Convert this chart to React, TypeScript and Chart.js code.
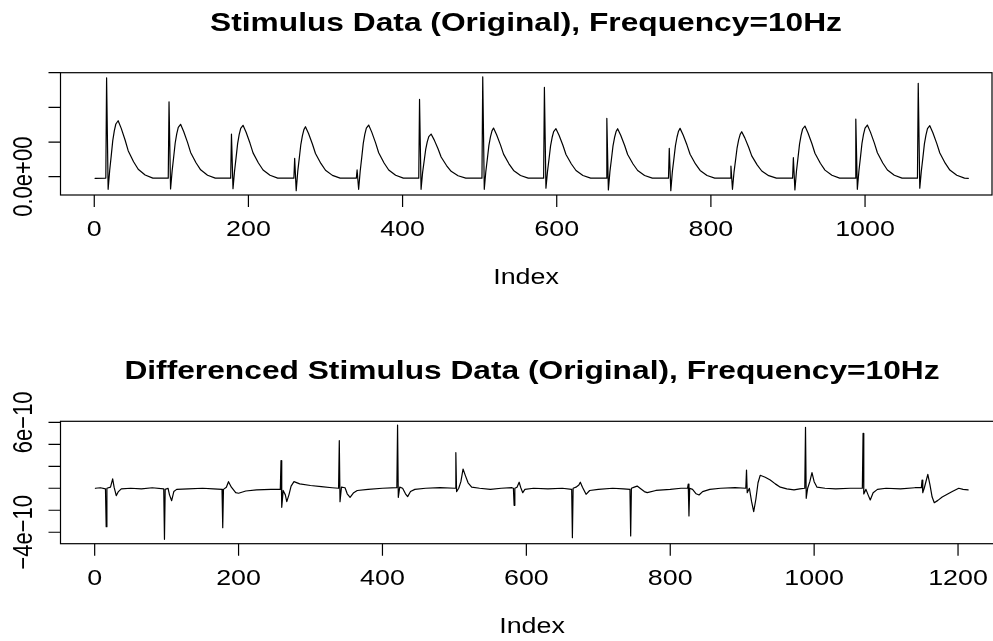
import React, { useEffect, useRef } from "react";
import { Chart, registerables } from "chart.js";

Chart.register(...registerables);

// ---------- Top panel: stimulus (values in units of 1e-8) ----------
const topIndex = [
  1, 15, 16, 18, 20, 22, 24, 26, 28, 31, 35, 40, 44, 51, 57, 66, 76,
  96, 97, 99, 101, 103, 105, 107, 109, 112, 116, 121, 125, 132, 138, 147, 157,
  177, 178, 180, 182, 184, 186, 188, 190, 193, 197, 202, 206, 213, 219, 228, 238,
  259, 260, 262, 264, 266, 268, 270, 272, 274, 278, 283, 287, 294, 300, 309, 319,
  340, 341, 343, 345, 347, 349, 351, 353, 356, 360, 365, 369, 376, 382, 391, 401,
  421, 422, 424, 426, 428, 430, 432, 434, 437, 441, 446, 450, 457, 463, 472, 482,
  503, 504, 506, 508, 510, 512, 514, 516, 518, 522, 527, 531, 538, 544, 553, 563,
  583, 584, 586, 588, 590, 592, 594, 596, 599, 603, 608, 612, 619, 625, 634, 644,
  664, 665, 667, 669, 671, 673, 675, 677, 679, 683, 688, 692, 699, 705, 714, 724,
  745, 746, 748, 750, 752, 754, 756, 758, 760, 764, 769, 773, 780, 786, 795, 805,
  825, 826, 828, 830, 832, 834, 836, 838, 840, 844, 849, 853, 860, 866, 875, 885,
  906, 907, 909, 911, 913, 915, 917, 919, 922, 926, 931, 935, 942, 948, 957, 967,
  987, 988, 990, 992, 994, 996, 998, 1000, 1003, 1007, 1012, 1016, 1023, 1029, 1038, 1048,
  1068, 1069, 1071, 1073, 1075, 1077, 1079, 1081, 1084, 1088, 1093, 1097, 1104, 1110, 1119, 1129, 1134,
];
const topValue = [
  -0.23, -0.2, 14.27, -1.82, 0.9, 3.0, 5.2, 6.6, 7.6, 8.07, 6.97, 5.29, 3.75, 2.16, 1.07, 0.24, -0.2,
  -0.22, 10.8, -1.77, 0.81, 2.8, 4.86, 6.17, 7.11, 7.55, 6.52, 4.95, 3.5, 2.01, 0.99, 0.21, -0.2,
  -0.22, 6.15, -1.73, 0.79, 2.75, 4.77, 6.06, 6.98, 7.41, 6.4, 4.85, 3.44, 1.97, 0.96, 0.2, -0.2,
  -0.22, 2.65, -2.02, 0.76, 2.67, 4.64, 5.89, 6.79, 7.21, 6.22, 4.72, 3.34, 1.91, 0.93, 0.19, -0.2,
  -0.22, 0.97, -1.82, 0.79, 2.76, 4.8, 6.09, 7.01, 7.45, 6.43, 4.88, 3.46, 1.98, 0.97, 0.21, -0.2,
  -0.22, 11.15, -1.82, 0.63, 2.26, 3.95, 5.02, 5.79, 6.15, 5.31, 4.02, 2.84, 1.61, 0.77, 0.14, -0.2,
  -0.22, 14.4, -1.82, 0.74, 2.59, 4.51, 5.73, 6.61, 7.02, 6.06, 4.59, 3.25, 1.86, 0.9, 0.18, -0.2,
  -0.22, 12.88, -1.67, 0.73, 2.56, 4.45, 5.65, 6.51, 6.92, 5.97, 4.53, 3.2, 1.83, 0.89, 0.18, -0.2,
  -0.22, 8.41, -1.92, 0.73, 2.56, 4.45, 5.65, 6.51, 6.92, 5.97, 4.53, 3.2, 1.83, 0.89, 0.18, -0.2,
  -0.22, 4.09, -2.02, 0.73, 2.57, 4.48, 5.69, 6.56, 6.97, 6.02, 4.56, 3.23, 1.84, 0.9, 0.18, -0.2,
  -0.22, 1.54, -1.82, 0.67, 2.39, 4.17, 5.3, 6.11, 6.49, 5.6, 4.24, 3.0, 1.71, 0.82, 0.15, -0.2,
  -0.22, 2.74, -1.92, 0.78, 2.71, 4.7, 5.97, 6.88, 7.31, 6.31, 4.79, 3.39, 1.94, 0.95, 0.2, -0.2,
  -0.22, 8.31, -1.82, 0.79, 2.76, 4.8, 6.09, 7.01, 7.45, 6.43, 4.88, 3.46, 1.98, 0.97, 0.21, -0.2,
  -0.22, 13.46, -1.67, 0.78, 2.72, 4.73, 6.01, 6.92, 7.35, 6.35, 4.81, 3.41, 1.95, 0.96, 0.2, -0.2, -0.23,
];
const topXTicks = [0, 200, 400, 600, 800, 1000];
const topYTicks = [0, 5, 10, 15];
const topYTickLabels = ["0.0e+00", "", "", ""];

// ---------- Bottom panel: differenced stimulus (values in units of 1e-10) ----------
const diffIndex = [
  1, 8, 15,
  16, 17, 22, 25, 27, 30, 33, 37, 50, 65, 80, 96,
  97, 98, 102, 104, 107, 110, 114, 130, 150, 165, 177,
  178, 179, 183, 186, 190, 196, 200, 210, 225, 245, 258,
  259, 260, 262, 265, 267, 270, 273, 277, 285, 300, 315, 330, 339,
  340, 341, 343, 348, 351, 355, 360, 365, 380, 400, 420,
  421, 422, 424, 428, 432, 435, 439, 445, 460, 480, 501,
  502, 503, 506, 509, 512, 515, 519, 524, 535, 550, 565, 580, 582,
  583, 584, 587, 590, 592, 595, 598, 610, 630, 650, 663,
  664, 665, 669, 673, 675, 678, 683, 688, 700, 720, 735, 744,
  745, 746, 750, 754, 758, 764, 768, 780, 800, 815, 824,
  825, 826, 827, 831, 836, 840, 845, 855, 870, 890, 905,
  906, 907, 910, 913, 916, 919, 922, 925, 932, 939, 946, 953, 962, 972, 980, 987,
  988, 989, 991, 994, 997, 1000, 1004, 1015, 1030, 1050, 1067,
  1068, 1069, 1072, 1075, 1078, 1082, 1088, 1100, 1120, 1140, 1149,
  1150, 1151, 1153, 1155, 1158, 1161, 1164, 1167, 1172, 1178, 1185, 1192, 1201, 1207, 1214,
];
const diffValue = [
  0, 0.05, -0.05,
  -3.49, 0.0, 0.1, 0.85, 0.1, -0.67, -0.3, -0.05, 0.0, -0.05, 0.05, -0.05,
  -4.64, -0.1, 0.0, -0.6, -1.13, -0.3, -0.1, -0.05, 0.0, -0.05, -0.1,
  -3.58, -0.1, 0.1, 0.6, 0.1, -0.4, -0.45, -0.25, -0.15, -0.1, -0.1,
  2.51, -1.73, -0.2, -0.6, -1.22, -0.6, 0.2, 0.6, 0.4, 0.25, 0.15, 0.05, 0.0,
  4.33, -1.22, 0.1, 0.05, -0.5, -0.82, -0.4, -0.2, -0.1, 0.0, 0.05,
  5.75, -0.82, 0.1, 0.0, -0.5, -0.76, -0.3, -0.1, 0.0, 0.05, 0.0,
  3.24, -0.3, 0.0, 0.6, 1.75, 1.2, 0.5, 0.1, 0.0, -0.1, 0.0, 0.05, 0.0,
  -1.55, 0.0, 0.1, 0.55, 0.1, -0.4, -0.1, 0.0, -0.05, 0.0, -0.1,
  -4.49, 0.0, 0.1, 0.3, 0.55, 0.1, -0.55, -0.2, -0.1, 0.0, -0.05, -0.1,
  -4.34, 0.0, 0.1, 0.2, 0.0, -0.3, -0.4, -0.2, -0.1, 0.0, 0.0,
  0.39, -2.52, 0.0, -0.1, -0.5, -0.61, -0.3, -0.1, 0.0, 0.05, 0.0,
  1.66, -0.4, 0.0, -1.2, -2.12, -1.0, 0.5, 1.18, 1.0, 0.75, 0.4, 0.1, -0.05, -0.15, -0.05, 0.0,
  5.55, -0.91, 0.0, 0.6, 1.42, 0.6, 0.1, 0.0, -0.05, 0.0, 0.0,
  4.99, -0.52, -0.1, -0.6, -1.06, -0.4, -0.1, 0.0, -0.05, 0.05, 0.05,
  0.75, -0.4, 0.0, 0.5, 1.27, 0.3, -0.8, -1.31, -1.1, -0.8, -0.55, -0.3, 0.0, -0.1, -0.15,
];
const diffXTicks = [0, 200, 400, 600, 800, 1000, 1200];
const diffYTicks = [-4, -2, 0, 2, 4, 6];
const diffYTickLabels = ["\u22124e\u221210", "", "", "", "", "6e\u221210"];

const FONT = '"Liberation Sans", Arial, Helvetica, sans-serif';
const STRETCH = 1.22;
const TICK_LEN = 12;
const LINE_W = 1.2;

type Spec = {
  top: number;
  width: number;
  height: number;
  pad: { left: number; top: number; right: number; bottom: number };
  xMin: number;
  xMax: number;
  yMin: number;
  yMax: number;
  xs: number[];
  ys: number[];
  xTicks: number[];
  yTicks: number[];
  yTickLabels: string[];
  title: string;
  titleX: number;
  titleBaseline: number;
  tickBaseline: number;
  xLabelX: number;
  xLabelBaseline: number;
  yLabelBaselineX: number;
};

function stretchedText(ctx: CanvasRenderingContext2D, text: string, x: number, y: number) {
  ctx.save();
  ctx.translate(x, y);
  ctx.scale(STRETCH, 1);
  ctx.fillText(text, 0, 0);
  ctx.restore();
}

function rotatedText(ctx: CanvasRenderingContext2D, text: string, x: number, y: number) {
  ctx.save();
  ctx.translate(x, y);
  ctx.scale(STRETCH, 1);
  ctx.rotate(-Math.PI / 2);
  ctx.fillText(text, 0, 0);
  ctx.restore();
}

function makeAxesPlugin(spec: Spec) {
  return {
    id: "rStyleAxes",
    afterDraw(chart: any) {
      const ctx: CanvasRenderingContext2D = chart.ctx;
      const a = chart.chartArea;
      const xs = chart.scales.x;
      const ys = chart.scales.y;
      ctx.save();
      ctx.strokeStyle = "#000";
      ctx.lineWidth = LINE_W;
      ctx.strokeRect(a.left, a.top, a.right - a.left, a.bottom - a.top);
      ctx.beginPath();
      for (const t of spec.xTicks) {
        const px = xs.getPixelForValue(t);
        ctx.moveTo(px, a.bottom);
        ctx.lineTo(px, a.bottom + TICK_LEN);
      }
      for (const t of spec.yTicks) {
        const py = ys.getPixelForValue(t);
        ctx.moveTo(a.left, py);
        ctx.lineTo(a.left - TICK_LEN, py);
      }
      ctx.stroke();

      ctx.fillStyle = "#000";
      ctx.textAlign = "center";
      ctx.textBaseline = "alphabetic";
      ctx.font = `22px ${FONT}`;
      for (const t of spec.xTicks) {
        stretchedText(ctx, String(t), xs.getPixelForValue(t), spec.tickBaseline);
      }
      spec.yTicks.forEach((t, i) => {
        const label = spec.yTickLabels[i];
        if (label) rotatedText(ctx, label, spec.yLabelBaselineX, ys.getPixelForValue(t));
      });
      stretchedText(ctx, "Index", spec.xLabelX, spec.xLabelBaseline);

      ctx.font = `bold 26px ${FONT}`;
      stretchedText(ctx, spec.title, spec.titleX, spec.titleBaseline);
      ctx.restore();
    },
  };
}

function Panel({ spec }: { spec: Spec }) {
  const ref = useRef<HTMLCanvasElement | null>(null);
  useEffect(() => {
    if (!ref.current) return;
    const chart = new Chart(ref.current, {
      type: "line",
      data: {
        datasets: [
          {
            data: spec.xs.map((x, i) => ({ x, y: spec.ys[i] })),
            borderColor: "#000",
            borderWidth: LINE_W,
            pointRadius: 0,
            tension: 0,
            fill: false,
            borderJoinStyle: "round",
            borderCapStyle: "round",
          },
        ],
      },
      options: {
        responsive: false,
        animation: false,
        devicePixelRatio: 1,
        events: [],
        layout: { padding: spec.pad },
        scales: {
          x: { type: "linear", min: spec.xMin, max: spec.xMax, display: false },
          y: { type: "linear", min: spec.yMin, max: spec.yMax, display: false },
        },
        plugins: {
          legend: { display: false },
          tooltip: { enabled: false },
          title: { display: false },
        },
      },
      plugins: [makeAxesPlugin(spec)],
    } as any);
    return () => chart.destroy();
  }, [spec]);
  return (
    <canvas
      ref={ref}
      width={spec.width}
      height={spec.height}
      style={{
        position: "absolute",
        left: 0,
        top: spec.top,
        width: spec.width,
        height: spec.height,
        display: "block",
      }}
    />
  );
}

const W = 1010;

const topSpec: Spec = {
  top: 0,
  width: W,
  height: 320,
  pad: { left: 60.5, top: 72.7, right: W - 992, bottom: 320 - 195 },
  xMin: -43.8,
  xMax: 1164.7,
  yMin: -2.64,
  yMax: 15.0,
  xs: topIndex,
  ys: topValue,
  xTicks: topXTicks,
  yTicks: topYTicks,
  yTickLabels: topYTickLabels,
  title: "Stimulus Data (Original), Frequency=10Hz",
  titleX: 526,
  titleBaseline: 31,
  tickBaseline: 236,
  xLabelX: 526,
  xLabelBaseline: 284,
  yLabelBaselineX: 31.5,
};

const bottomSpec: Spec = {
  top: 320,
  width: W,
  height: 321,
  pad: { left: 60.5, top: 101.3, right: W - 1003, bottom: 321 - 223.7 },
  xMin: -47.5,
  xMax: 1262.5,
  yMin: -5.04,
  yMax: 6.09,
  xs: diffIndex,
  ys: diffValue,
  xTicks: diffXTicks,
  yTicks: diffYTicks,
  yTickLabels: diffYTickLabels,
  title: "Differenced Stimulus Data (Original), Frequency=10Hz",
  titleX: 532,
  titleBaseline: 59,
  tickBaseline: 265,
  xLabelX: 532,
  xLabelBaseline: 313,
  yLabelBaselineX: 31.5,
};

export default function App() {
  return (
    <div
      style={{
        position: "fixed",
        left: 0,
        top: 0,
        width: 993,
        height: 641,
        overflow: "hidden",
        background: "#fff",
      }}
    >
      <Panel spec={topSpec} />
      <Panel spec={bottomSpec} />
    </div>
  );
}
